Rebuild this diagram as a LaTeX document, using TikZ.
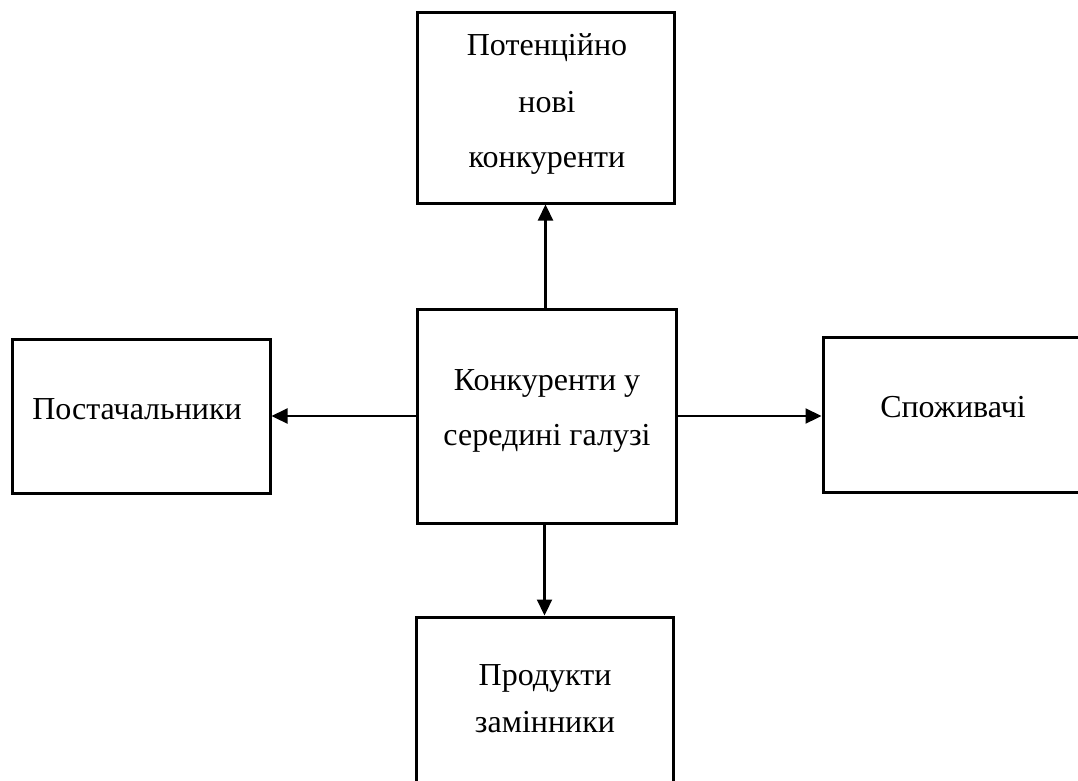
\documentclass[tikz,border=0pt]{standalone}
\usepackage{fontspec}
\setmainfont{Liberation Serif}
\usetikzlibrary{arrows.meta}
\begin{document}
\begin{tikzpicture}[x=1pt,y=-1pt,
  box/.style={draw=black, line width=3pt, inner sep=0pt, fill=white},
  txt/.style={anchor=base, inner sep=0pt, font=\fontsize{32}{38}\selectfont},
  arr/.style={line width=2.2pt, -{Triangle[length=16pt,width=15pt]}}]
\useasboundingbox[fill=white] (0,0) rectangle (1078,780);
% boxes
\node[box, minimum width=257pt, minimum height=191pt] (top) at (545.5,107.5) {};
\node[box, minimum width=259pt, minimum height=214pt] (c) at (546.5,416) {};
\node[box, minimum width=258pt, minimum height=154pt] (l) at (141,416) {};
\node[box, minimum width=280pt, minimum height=155pt] (r) at (963,414.5) {};
\node[box, minimum width=257pt, minimum height=200pt] (b) at (544.5,717) {};
% texts
\node[txt] (t1) at (547,55) {Потенційно};
\node[txt] (t2) at (547,112) {нові};
\node[txt] (t3) at (547,167) {конкуренти};
\node[txt] (c1) at (547,390) {Конкуренти у};
\node[txt] (c2) at (547,445) {середині галузі};
\node[txt] (lt) at (137,419) {Постачальники};
\node[txt] (rt) at (953,417) {Споживачі};
\node[txt] (b1) at (545,685) {Продукти};
\node[txt] (b2) at (545,732) {замінники};
% connectors
\draw[arr] (c.north -| top.south) -- (top.south);
\draw[arr] (c.west) -- (l.east);
\draw[arr] (c.east) -- (c.east -| r.west);
\draw[arr] (c.south -| b.north) -- (b.north);
\end{tikzpicture}
\end{document}
